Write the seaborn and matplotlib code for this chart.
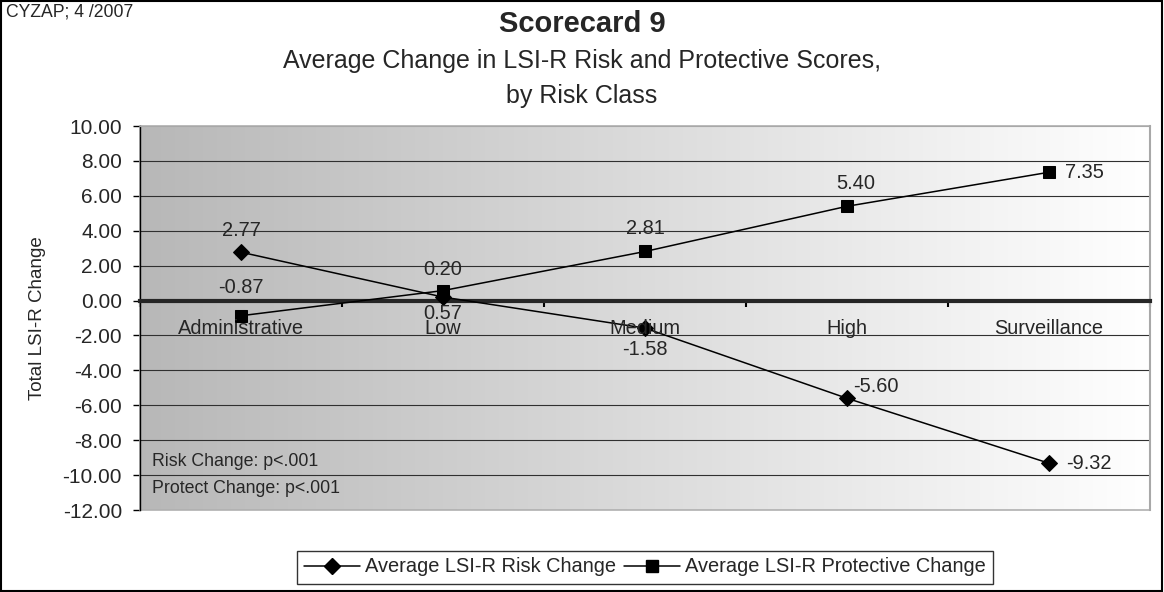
import numpy as np
import pandas as pd
import matplotlib
matplotlib.use("Agg")
import matplotlib.pyplot as plt
from matplotlib.patches import Rectangle
from matplotlib.lines import Line2D
import seaborn as sns

categories = ["Administrative", "Low", "Medium", "High", "Surveillance"]
risk = [2.77, 0.20, -1.58, -5.60, -9.32]
protective = [-0.87, 0.57, 2.81, 5.40, 7.35]
series_names = ["Average LSI-R Risk Change", "Average LSI-R Protective Change"]
y_ticks = [10, 8, 6, 4, 2, 0, -2, -4, -6, -8, -10, -12]

sns.set_style("white")
plt.rcParams['font.family'] = ['Liberation Sans', 'DejaVu Sans']

W, H = 1164, 592
fig = plt.figure(figsize=(W / 100, H / 100), dpi=100)
ax = fig.add_axes([140 / W, 1 - 510 / H, 1010 / W, 384 / H])

df = pd.DataFrame({
    "cat": categories * 2,
    "pos": list(range(len(categories))) * 2,
    "value": risk + protective,
    "series": [series_names[0]] * len(categories) + [series_names[1]] * len(categories),
})

# gradient background
grad = np.linspace(0.72, 1.0, 512)
img = np.dstack([grad, grad, grad]).reshape(1, 512, 3)
ax.imshow(img, extent=[0, 1, 0, 1], transform=ax.transAxes, aspect="auto", zorder=0)

for name, mk, ms in [(series_names[0], "D", 8), (series_names[1], "s", 8.5)]:
    sub = df[df["series"] == name]
    sns.lineplot(data=sub, x="pos", y="value", ax=ax, color="black", marker=mk,
                 markersize=ms, markeredgecolor="black", linewidth=1.1, zorder=5,
                 legend=False)

ax.set_xlim(-0.5, len(categories) - 0.5)
ax.set_ylim(-12, 10)
ax.set_yticks(y_ticks)
ax.set_yticklabels([f"{v:.2f}" for v in y_ticks], fontsize=15)
for v in y_ticks:
    if v not in (0, 10, -12):
        ax.axhline(v, color="#303030", lw=0.8, zorder=1)

# category axis at zero
ax.spines["bottom"].set_position(("data", 0))
ax.spines["bottom"].set_linewidth(3)
ax.spines["bottom"].set_zorder(3)
ax.spines["left"].set_linewidth(1)
ax.spines["left"].set_color("black")
ax.spines["top"].set_color("#a8a8a8")
ax.spines["right"].set_color("#a8a8a8")
ax.spines["right"].set_linewidth(1.5)
ax.add_patch(Rectangle((0, 0), 1, 1, transform=ax.transAxes, fill=False,
                       edgecolor="#b0b0b0", lw=1.2, zorder=2, clip_on=False))
ax.set_xticks(np.arange(-0.5, len(categories), 1.0))
ax.set_xticklabels([])
ax.tick_params(axis="x", direction="out", length=4, width=1.5, color="black", bottom=True)
ax.tick_params(axis="y", direction="out", length=5, width=1, color="black", left=True, pad=8)
ax.set_xlabel("")
ax.set_ylabel("Total LSI-R Change", fontsize=13.5, labelpad=12)

for i, c in enumerate(categories):
    ax.annotate(c, (i, 0), xytext=(0, -28), textcoords="offset pixels",
                ha="center", va="center", fontsize=14.4, zorder=6)

risk_off = [(0, 22, "center"), (0, 28, "center"), (0, -21, "center"), (6, 12, "left"), (17, 0, "left")]
prot_off = [(0, 28, "center"), (0, -23, "center"), (0, 23, "center"), (9, 23, "center"), (16, 0, "left")]
for vals, offs in [(risk, risk_off), (protective, prot_off)]:
    for i, (v, (dx, dy, ha)) in enumerate(zip(vals, offs)):
        ax.annotate(f"{v:.2f}", (i, v), xytext=(dx, dy), textcoords="offset pixels",
                    ha=ha, va="center", fontsize=14.4, zorder=6)

ax.text(0.012, (-10 + 12) / 22 + 0.035, "Risk Change: p<.001", transform=ax.transAxes,
        fontsize=12.8, ha="left", va="center", zorder=6)
ax.text(0.012, (-10 + 12) / 22 - 0.035, "Protect Change: p<.001", transform=ax.transAxes,
        fontsize=12.8, ha="left", va="center", zorder=6)

fig.text(582 / W, 1 - 24 / H, "Scorecard 9", fontsize=21, fontweight="bold", ha="center", va="center")
fig.text(582 / W, 1 - 61 / H, "Average Change in LSI-R Risk and Protective Scores,", fontsize=18,
         ha="center", va="center")
fig.text(582 / W, 1 - 96 / H, "by Risk Class", fontsize=18, ha="center", va="center")
fig.text(6 / W, 1 - 12 / H, "CYZAP; 4 /2007", fontsize=12.7, ha="left", va="center")

handles = [Line2D([], [], color="black", marker="D", markersize=8, lw=1.1),
           Line2D([], [], color="black", marker="s", markersize=8.5, lw=1.1)]
leg = fig.legend(handles, series_names, loc="center", bbox_to_anchor=(645 / W, 1 - 567 / H),
                 ncol=2, fontsize=14.4, frameon=True, fancybox=False, handlelength=2.8,
                 handletextpad=0.25, columnspacing=0.4, borderpad=0.35, edgecolor="black")
leg.get_frame().set_linewidth(1)

fig.add_artist(Rectangle((0.001, 0.001), 0.997, 0.997, transform=fig.transFigure,
                         fill=False, edgecolor="black", lw=1.5))

fig.savefig("out.png", dpi=100)
